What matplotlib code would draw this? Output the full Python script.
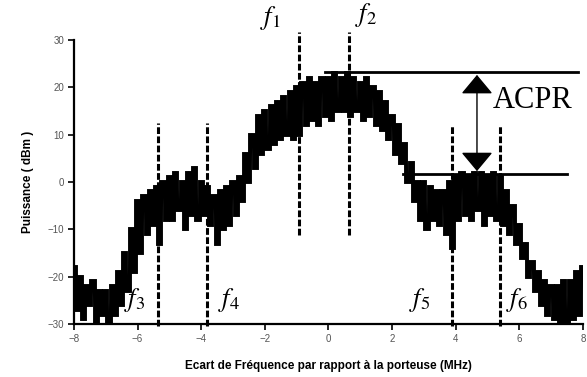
import numpy as np
import matplotlib.pyplot as plt
from matplotlib.patches import FancyArrowPatch

# frequency offset (MHz), one point every 0.1 MHz from -8 to 8
freq = np.round(np.arange(-8, 8.001, 0.1), 2)

# spectrum trace (dBm), 10 values per MHz
power = [
    -18, -27, -20, -29, -22, -26, -21, -30, -23, -28,   # -8 .. -7.1
    -23, -30, -22, -28, -19, -26, -15, -23, -10, -19,   # -7 .. -6.1
    -4, -15, -3, -11, -2, -9, -1, -13, 0, -8,           # -6 .. -5.1
    1, -8, 2, -6, 0, -10, 2, -7, 3, -8,                 # -5 .. -4.1
    0, -7, -1, -9, -3, -13, -2, -10, -1, -9,            # -4 .. -3.1
    0, -7, 1, -4, 6, 0, 10, 3, 14, 6,                   # -3 .. -2.1
    15, 7, 16, 8, 17, 9, 18, 10, 19, 9,                 # -2 .. -1.1
    20, 10, 21, 12, 22, 13, 21, 12, 22, 14,             # -1 .. -0.1
    22, 13, 23, 15, 22, 15, 23, 14, 22, 15,             # 0 .. 0.9
    21, 13, 22, 14, 20, 12, 19, 11, 17, 9,              # 1 .. 1.9
    14, 6, 12, 4, 8, 0, 4, -4, 0, -8,                   # 2 .. 2.9
    0, -10, -1, -8, -2, -9, -2, -11, 0, -14,            # 3 .. 3.9
    1, -8, 2, -7, 1, -8, 2, -6, 2, -9,                  # 4 .. 4.9
    1, -7, 2, -8, 1, -9, -2, -11, -5, -13,              # 5 .. 5.9
    -9, -16, -13, -20, -17, -23, -19, -26, -21, -28,    # 6 .. 6.9
    -22, -29, -22, -30, -21, -30, -21, -29, -19, -28,   # 7 .. 7.9
    -18,                                                # 8
]

# marker frequencies and the extent of their dashed lines
f_names = ['$f_1$', '$f_2$', '$f_3$', '$f_4$', '$f_5$', '$f_6$']
f_pos = [-0.93, 0.65, -5.36, -3.82, 3.89, 5.4]
f_top = [31.7, 31.7, 12.5, 12.5, 12, 12]
f_bottom = [-11.2, -11.2, -30.5, -30.5, -30.5, -30.5]
f_label_x = [-1.84, 1.18, -6.08, -3.13, 2.88, 5.93]
f_label_y = [34.6, 35.3, -25, -25, -25, -25]

# ACPR reference levels
main_level = 23.2
adj_level = 1.7
main_span = (-0.1, 7.85)
adj_span = (2.35, 7.5)
acpr_x = 4.67

plt.rcParams['mathtext.fontset'] = 'stix'

fig = plt.figure(figsize=(5.87, 3.77), dpi=100)
ax = fig.add_axes([0.126, 0.1406, 0.867, 0.7534])

ax.plot(freq, power, color='black', lw=2.8, drawstyle='steps-mid',
        solid_joinstyle='miter')
ax.plot(freq, power, color='black', lw=1.5)

for x, top, bot in zip(f_pos, f_top, f_bottom):
    ax.plot([x, x], [bot, top], color='black', lw=2.2, dashes=(2.2, 0.8),
            clip_on=False)
for name, x, y in zip(f_names, f_label_x, f_label_y):
    ax.text(x, y, name, fontsize=19, ha='center', va='center',
            clip_on=False)

ax.plot(main_span, [main_level, main_level], color='black', lw=2)
ax.plot(adj_span, [adj_level, adj_level], color='black', lw=2)
arrow = FancyArrowPatch((acpr_x, adj_level), (acpr_x, main_level),
                        arrowstyle='<|-|>,head_length=0.6,head_width=0.5',
                        mutation_scale=20, color='black', lw=1)
ax.add_patch(arrow)
ax.text(5.18, 17.3, 'ACPR', fontsize=22, family='Liberation Serif',
        va='center', ha='left')

ax.set_xlim(-8, 8)
ax.set_ylim(-30, 30)
ax.set_xticks(range(-8, 9, 2))
ax.set_yticks(range(-30, 31, 10))
for side in ['top', 'right']:
    ax.spines[side].set_visible(False)
for side in ['left', 'bottom']:
    ax.spines[side].set_linewidth(1.6)
ax.tick_params(length=4, width=1.2, labelsize=7, labelcolor='#555555',
               pad=3)
for lab in ax.get_xticklabels() + ax.get_yticklabels():
    lab.set_family('Liberation Sans')

ax.set_xlabel('Ecart de Fréquence par rapport à la porteuse (MHz)',
              fontsize=8.5, fontweight='bold', family='Liberation Sans',
              labelpad=12)
ax.set_ylabel('Puissance ( dBm )', fontsize=8.5, fontweight='bold',
              family='Liberation Sans', labelpad=10)

fig.savefig('out.png', dpi=100)
